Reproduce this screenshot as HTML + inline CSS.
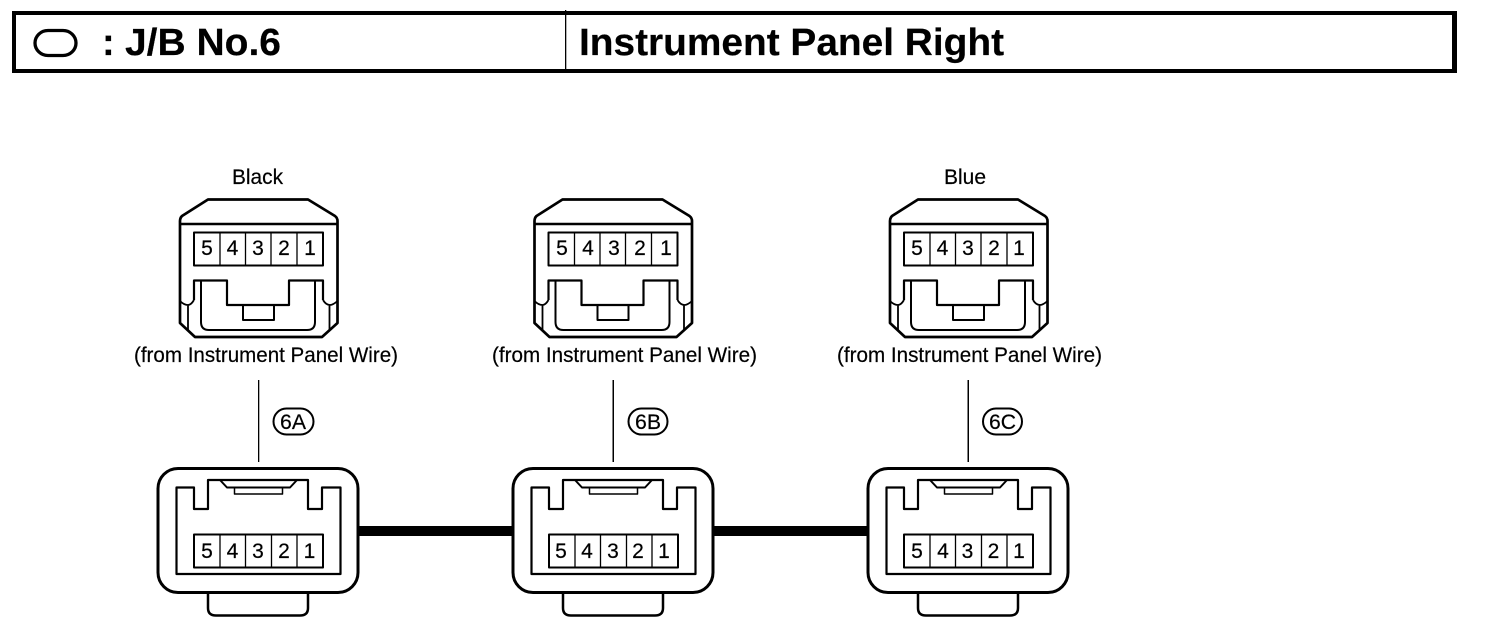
<!DOCTYPE html>
<html>
<head>
<meta charset="utf-8">
<style>
html,body{margin:0;padding:0;background:#fff;}
svg{display:block;}
text{font-family:"Liberation Sans",sans-serif;fill:#000;stroke:#000;stroke-width:.2px;}
.b{font-weight:700;font-size:38px;}
.l{font-size:21px;}
.d{font-size:21px;text-anchor:middle;}
.s{fill:none;stroke:#000;stroke-linejoin:round;}
</style>
</head>
<body>
<svg xmlns="http://www.w3.org/2000/svg" width="1504" height="644" viewBox="0 0 1504 644">
<defs>
<g id="top">
<path class="s" stroke-width="2.700" d="M208,199.500 H308 L335,216 Q337.500,218 337.500,221 V323 L322,337 H195 L180,323 V221 Q180,218 182,216 Z"/>
<path class="s" stroke-width="2.500" d="M180,224 H337.500"/>
<rect class="s" stroke-width="2" x="194" y="232.500" width="129" height="33"/>
<path class="s" stroke-width="1.300" d="M220,232.500 V265 M245.500,232.500 V265 M271,232.500 V265 M297,232.500 V265"/>
<path class="s" stroke-width="2.200" d="M194,300 V280.500 H227 V305 H289 V280.500 H323 V300"/>
<path class="s" stroke-width="2" d="M201,280.500 V322 Q201,330 209,330 H307 Q315,330 315,322 V280.500"/>
<rect class="s" stroke-width="2" x="243" y="305" width="31" height="15"/>
<path class="s" stroke-width="1.800" d="M180,301 Q184,305 188,305 Q191,305 194,300 M188,305 V331 M323,300 Q326,305 330,305 Q333,305 337.500,301 M329.500,305 V331"/>
</g>
<g id="bot">
<rect class="s" stroke-width="3" x="158" y="468.500" width="200" height="124" rx="20" ry="20"/>
<path class="s" stroke-width="2.200" d="M194,487.500 H176.500 V574 H340.500 V487.500 H322 V509 H308 V480 H208 V509 H194 Z"/>
<path class="s" stroke-width="2" d="M220,480 L227,487.500 H290 L297,480"/>
<path class="s" stroke-width="1.500" d="M234.500,487.500 V494 H282.500 V487.500"/>
<rect class="s" stroke-width="2" x="194" y="534.500" width="129" height="33"/>
<path class="s" stroke-width="1.300" d="M220,534.500 V567.500 M245.500,534.500 V567.500 M271.500,534.500 V567.500 M297,534.500 V567.500"/>
<path class="s" stroke-width="2.500" d="M208,593 V608 Q208,615.500 216,615.500 H300 Q308,615.500 308,608 V593"/>
</g>
</defs>

<!-- header -->
<rect x="12" y="11" width="1445" height="4" fill="#000"/>
<rect x="12" y="69" width="1445" height="4" fill="#000"/>
<rect x="12" y="11" width="4" height="62" fill="#000"/>
<rect x="1452" y="11" width="5" height="62" fill="#000"/>
<rect x="565" y="10" width="1.300" height="60" fill="#000"/>
<rect class="s" stroke-width="3.300" x="35" y="30.500" width="41" height="25" rx="13" ry="12.500"/>
<text class="b" x="102" y="55">:</text>
<text class="b" x="125" y="55" textLength="156" lengthAdjust="spacingAndGlyphs">J/B No.6</text>
<text class="b" x="579" y="55" textLength="425" lengthAdjust="spacingAndGlyphs">Instrument Panel Right</text>

<!-- top connectors -->
<use href="#top"/>
<use href="#top" x="354.500"/>
<use href="#top" x="710"/>

<text class="l" x="232" y="184" textLength="51" lengthAdjust="spacingAndGlyphs">Black</text>
<text class="l" x="944" y="184" textLength="42" lengthAdjust="spacingAndGlyphs">Blue</text>

<text class="d" x="207" y="255">5</text><text class="d" x="232.500" y="255">4</text><text class="d" x="258" y="255">3</text><text class="d" x="284" y="255">2</text><text class="d" x="310" y="255">1</text>
<text class="d" x="562" y="255">5</text><text class="d" x="588" y="255">4</text><text class="d" x="614" y="255">3</text><text class="d" x="640" y="255">2</text><text class="d" x="666" y="255">1</text>
<text class="d" x="917" y="255">5</text><text class="d" x="942.500" y="255">4</text><text class="d" x="968" y="255">3</text><text class="d" x="994" y="255">2</text><text class="d" x="1019" y="255">1</text>

<text class="l" x="134" y="362" textLength="264" lengthAdjust="spacingAndGlyphs">(from Instrument Panel Wire)</text>
<text class="l" x="492" y="362" textLength="265" lengthAdjust="spacingAndGlyphs">(from Instrument Panel Wire)</text>
<text class="l" x="837" y="362" textLength="265" lengthAdjust="spacingAndGlyphs">(from Instrument Panel Wire)</text>

<!-- leaders -->
<rect x="258" y="380" width="1.300" height="82" fill="#000"/>
<rect x="612.500" y="380" width="1.500" height="82" fill="#000"/>
<rect x="967.500" y="380" width="1.500" height="82" fill="#000"/>

<!-- badges -->
<rect class="s" stroke-width="2" x="273.500" y="408.500" width="40" height="26" rx="13" ry="13"/>
<rect class="s" stroke-width="2" x="628.500" y="408.500" width="39" height="26" rx="13" ry="13"/>
<rect class="s" stroke-width="2" x="983" y="408.500" width="39" height="26" rx="13" ry="13"/>
<text class="l" x="280" y="429" textLength="26" lengthAdjust="spacingAndGlyphs">6A</text>
<text class="l" x="635" y="429" textLength="26" lengthAdjust="spacingAndGlyphs">6B</text>
<text class="l" x="989" y="429" textLength="27" lengthAdjust="spacingAndGlyphs">6C</text>

<!-- cable -->
<rect x="358" y="526" width="155" height="10" fill="#000"/>
<rect x="713" y="526" width="155" height="10" fill="#000"/>

<!-- bottom connectors -->
<use href="#bot"/>
<use href="#bot" x="355"/>
<use href="#bot" x="710"/>

<text class="d" x="207" y="558">5</text><text class="d" x="232.500" y="558">4</text><text class="d" x="258" y="558">3</text><text class="d" x="284" y="558">2</text><text class="d" x="309.500" y="558">1</text>
<text class="d" x="561" y="558">5</text><text class="d" x="587" y="558">4</text><text class="d" x="613" y="558">3</text><text class="d" x="638" y="558">2</text><text class="d" x="664" y="558">1</text>
<text class="d" x="917" y="558">5</text><text class="d" x="943" y="558">4</text><text class="d" x="967.500" y="558">3</text><text class="d" x="993.500" y="558">2</text><text class="d" x="1019" y="558">1</text>
</svg>
</body>
</html>
